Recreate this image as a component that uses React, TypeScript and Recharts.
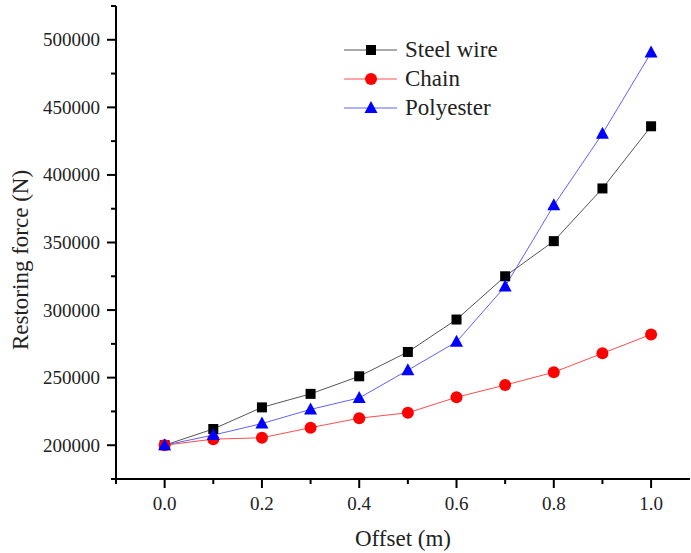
import { LineChart, Line, XAxis, YAxis, Legend } from "recharts";

const offsets = [0, 0.1, 0.2, 0.3, 0.4, 0.5, 0.6, 0.7, 0.8, 0.9, 1.0];
const steelWire = [200000, 212000, 228000, 238000, 251000, 269000, 293000, 325000, 351000, 390000, 436000];
const chain = [200000, 204500, 205500, 213000, 220000, 224000, 235500, 244500, 254000, 268000, 282000];
const polyester = [200000, 207500, 216000, 226500, 235000, 255500, 276500, 317500, 377500, 430500, 490500];

const xTicks = [-0.1, 0, 0.1, 0.2, 0.3, 0.4, 0.5, 0.6, 0.7, 0.8, 0.9, 1.0];
const yTicks = [175000, 200000, 225000, 250000, 275000, 300000, 325000, 350000, 375000, 400000, 425000, 450000, 475000, 500000, 525000];

const FONT = '"Liberation Serif", "Times New Roman", serif';

const data = offsets.map((x, i) => ({
  x,
  steel: steelWire[i],
  chain: chain[i],
  poly: polyester[i],
}));

const SquareDot = (props: any) => {
  const { cx, cy, index } = props;
  return <rect key={`sq-${index}`} x={cx - 5} y={cy - 5} width={10} height={10} fill="#000" />;
};

const CircleDot = (props: any) => {
  const { cx, cy, index } = props;
  return <circle key={`ci-${index}`} cx={cx} cy={cy} r={6} fill="#ff0000" />;
};

const TriangleDot = (props: any) => {
  const { cx, cy, index } = props;
  return (
    <polygon
      key={`tr-${index}`}
      points={`${cx},${cy - 7} ${cx - 6.5},${cy + 5} ${cx + 6.5},${cy + 5}`}
      fill="#0000ff"
    />
  );
};

const XTick = (props: any) => {
  const { x, y, payload } = props;
  const v = payload.value;
  const major = v >= 0 && Math.round(v * 10) % 2 === 0;
  return (
    <g>
      <line x1={x} y1={y} x2={x} y2={y + (major ? 9 : 5)} stroke="#000" strokeWidth={2} />
      {major && (
        <text x={x} y={y + 31} textAnchor="middle" fontSize={19} fontFamily={FONT} fill="#222">
          {v.toFixed(1)}
        </text>
      )}
    </g>
  );
};

const YTick = (props: any) => {
  const { x, y, payload } = props;
  const v = payload.value;
  const major = v % 50000 === 0;
  return (
    <g>
      <line x1={x - (major ? 9 : 5)} y1={y} x2={x} y2={y} stroke="#000" strokeWidth={2} />
      {major && (
        <text x={x - 16} y={y + 6.5} textAnchor="end" fontSize={19} fontFamily={FONT} fill="#222">
          {v}
        </text>
      )}
    </g>
  );
};

const YTitle = () => (
  <text
    x={28}
    y={260}
    transform="rotate(-90, 28, 260)"
    textAnchor="middle"
    fontSize={23}
    fontFamily={FONT}
    fill="#222"
  >
    Restoring force (N)
  </text>
);

const XTitle = () => (
  <text x={403} y={546} textAnchor="middle" fontSize={23} fontFamily={FONT} fill="#222">
    Offset (m)
  </text>
);

const legendItems = [
  { name: "Steel wire", line: "#555", marker: "square" },
  { name: "Chain", line: "#ff4d4d", marker: "circle" },
  { name: "Polyester", line: "#6060ff", marker: "triangle" },
];

const renderLegend = () => (
  <div style={{ fontFamily: FONT, fontSize: 23, color: "#222" }}>
    {legendItems.map((item) => (
      <div key={item.name} style={{ display: "flex", alignItems: "center", height: 29 }}>
        <svg width={54} height={20}>
          <line x1={0} y1={10} x2={53} y2={10} stroke={item.line} strokeWidth={1} />
          {item.marker === "square" && <rect x={22} y={5} width={10} height={10} fill="#000" />}
          {item.marker === "circle" && <circle cx={27} cy={10} r={6} fill="#ff0000" />}
          {item.marker === "triangle" && <polygon points="27,3 20.5,15 33.5,15" fill="#0000ff" />}
        </svg>
        <span style={{ marginLeft: 7, whiteSpace: "nowrap" }}>{item.name}</span>
      </div>
    ))}
  </div>
);

export default function App() {
  return (
    <div style={{ position: "absolute", left: 0, top: 0, background: "#fff" }}>
      <LineChart width={691} height={553} data={data} margin={{ top: 6, right: 1, left: 0, bottom: 0 }}>
        <XAxis
          type="number"
          dataKey="x"
          domain={[-0.1, 1.08]}
          ticks={xTicks}
          interval={0}
          allowDataOverflow
          tickSize={0}
          tickMargin={0}
          tickLine={false}
          tick={<XTick />}
          axisLine={{ stroke: "#000", strokeWidth: 2 }}
          height={74}
          label={<XTitle />}
        />
        <YAxis
          type="number"
          domain={[175000, 525000]}
          ticks={yTicks}
          interval={0}
          allowDataOverflow
          tickSize={0}
          tickMargin={0}
          tickLine={false}
          tick={<YTick />}
          axisLine={{ stroke: "#000", strokeWidth: 2 }}
          width={116}
          label={<YTitle />}
        />
        <Legend
          layout="vertical"
          align="center"
          verticalAlign="middle"
          wrapperStyle={{ left: 344, top: 35, width: 220 }}
          content={renderLegend}
        />
        <Line
          dataKey="steel"
          name="Steel wire"
          stroke="#555"
          strokeWidth={1}
          dot={SquareDot}
          activeDot={false}
          isAnimationActive={false}
        />
        <Line
          dataKey="chain"
          name="Chain"
          stroke="#ff4d4d"
          strokeWidth={1}
          dot={CircleDot}
          activeDot={false}
          isAnimationActive={false}
        />
        <Line
          dataKey="poly"
          name="Polyester"
          stroke="#6060ff"
          strokeWidth={1}
          dot={TriangleDot}
          activeDot={false}
          isAnimationActive={false}
        />
      </LineChart>
    </div>
  );
}
